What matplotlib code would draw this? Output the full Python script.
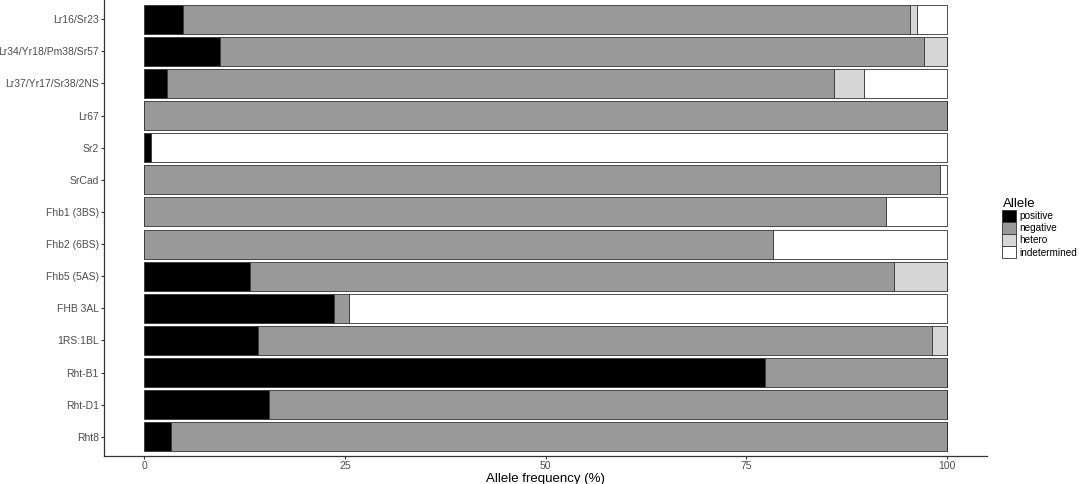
import matplotlib.pyplot as plt
import numpy as np

plt.rcParams['font.family'] = ['Liberation Sans', 'DejaVu Sans']

# categories top -> bottom
markers = ['Lr16/Sr23', 'Lr34/Yr18/Pm38/Sr57', 'Lr37/Yr17/Sr38/2NS', 'Lr67', 'Sr2',
           'SrCad', 'Fhb1 (3BS)', 'Fhb2 (6BS)', 'Fhb5 (5AS)', 'FHB 3AL',
           '1RS:1BL', 'Rht-B1', 'Rht-D1', 'Rht8']
positive = [4.8, 9.4, 2.8, 0.0, 0.9, 0.0, 0.0, 0.0, 13.2, 23.6, 14.2, 77.4, 15.5, 3.4]
negative = [90.6, 87.8, 83.1, 100.0, 0.0, 99.1, 92.4, 78.3, 80.2, 1.9, 83.9, 22.6, 84.5, 96.6]
hetero = [0.9, 2.8, 3.8, 0.0, 0.0, 0.0, 0.0, 0.0, 6.6, 0.0, 1.9, 0.0, 0.0, 0.0]
indetermined = [3.7, 0.0, 10.3, 0.0, 99.1, 0.9, 7.6, 21.7, 0.0, 74.5, 0.0, 0.0, 0.0, 0.0]

alleles = ['positive', 'negative', 'hetero', 'indetermined']
colors = ['#000000', '#999999', '#d6d6d6', '#ffffff']

fig = plt.figure(figsize=(10.79, 4.84), dpi=100)
ax = fig.add_axes([104 / 1079, 28 / 484, 883 / 1079, 456 / 484])

y = np.arange(len(markers), 0, -1)
left = np.zeros(len(markers))
for vals, name, col in zip([positive, negative, hetero, indetermined], alleles, colors):
    vals = np.array(vals)
    ax.barh(y, vals, left=left, height=0.9, color=col, edgecolor='#333333',
            linewidth=0.6, label=name)
    left += vals

ax.set_xlim(-5, 105)
ax.set_ylim(0.4, len(markers) + 0.6)
ax.set_yticks(y)
ax.set_yticklabels(markers)
for lab in ax.get_yticklabels():
    if lab.get_text() == 'Fhb5 (5AS)':
        lab.set_fontsize(6.5)
ax.set_xticks([0, 25, 50, 75, 100])
ax.tick_params(axis='both', colors='#333333', labelcolor='#4d4d4d', labelsize=7.5,
               length=2.5, width=0.8, pad=1.2)
ax.set_xlabel('Allele frequency (%)', fontsize=9.5, labelpad=1)
for s in ['top', 'right']:
    ax.spines[s].set_visible(False)
for s in ['left', 'bottom']:
    ax.spines[s].set_color('#333333')
    ax.spines[s].set_linewidth(0.9)

leg = ax.legend(title='Allele', loc='center left', bbox_to_anchor=(1.013, 0.5),
                frameon=False, fontsize=7.2, title_fontsize=9.5,
                handlelength=1.4, handleheight=1.5, handletextpad=0.3,
                labelspacing=0.0, borderaxespad=0)
leg._legend_box.align = 'left'

fig.savefig('out.png', dpi=100)
